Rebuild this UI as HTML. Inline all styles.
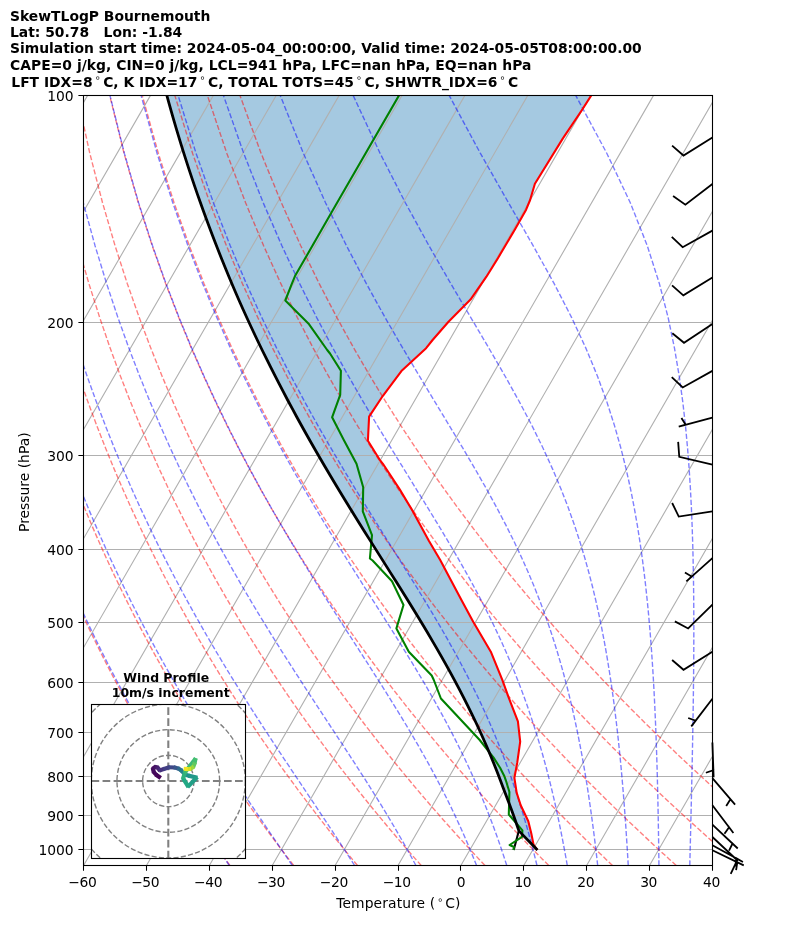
<!DOCTYPE html>
<html><head><meta charset="utf-8"><title>SkewTLogP Bournemouth</title>
<style>html,body{margin:0;padding:0;background:#fff}svg{display:block}text{font-family:"DejaVu Sans","Liberation Sans",sans-serif;fill:#000}</style>
</head><body>
<svg width="794" height="937" viewBox="0 0 794 937">
<rect width="794" height="937" fill="#fff"/>
<defs><clipPath id="ax"><rect x="83.6" y="95.4" width="628.80" height="770.10"/></clipPath></defs>
<g clip-path="url(#ax)">
<path d="M537.41 850.01 L518.87 830.85 L518.37 829.21 L515.49 820.97 L512.57 812.72 L509.53 804.48 L506.39 796.23 L503.24 787.99 L500.17 779.74 L497.00 771.50 L493.72 763.25 L490.33 755.01 L486.83 746.76 L483.23 738.52 L479.51 730.27 L475.68 722.03 L471.73 713.78 L467.68 705.54 L463.52 697.29 L459.25 689.05 L454.88 680.80 L450.40 672.56 L445.83 664.31 L441.17 656.07 L436.43 647.82 L431.61 639.58 L426.71 631.33 L421.75 623.09 L416.73 614.84 L411.66 606.60 L406.55 598.35 L401.41 590.11 L396.24 581.86 L391.05 573.62 L385.86 565.37 L380.66 557.13 L375.46 548.88 L370.27 540.63 L365.10 532.39 L359.95 524.14 L354.83 515.90 L349.74 507.65 L344.69 499.41 L339.67 491.16 L334.70 482.92 L329.78 474.67 L324.90 466.43 L320.08 458.18 L315.31 449.94 L310.59 441.69 L305.93 433.45 L301.33 425.20 L296.78 416.96 L292.30 408.71 L287.87 400.47 L283.51 392.22 L279.21 383.98 L274.97 375.73 L270.78 367.49 L266.67 359.24 L262.61 351.00 L258.61 342.75 L254.67 334.51 L250.80 326.26 L246.99 318.02 L243.23 309.77 L239.54 301.53 L235.95 293.28 L232.43 285.04 L228.96 276.79 L225.56 268.55 L222.21 260.30 L218.92 252.06 L215.69 243.81 L212.51 235.57 L209.39 227.32 L206.33 219.08 L203.32 210.83 L200.37 202.59 L197.47 194.34 L194.63 186.10 L191.84 177.85 L189.10 169.61 L186.42 161.36 L183.79 153.12 L181.21 144.87 L178.69 136.63 L176.21 128.38 L173.79 120.14 L171.42 111.89 L169.10 103.65 L166.83 95.40 L591.30 95.40 L581.80 110.20 L562.90 138.40 L534.90 183.70 L530.10 200.00 L526.10 209.70 L514.60 230.00 L497.90 258.20 L486.40 276.70 L470.50 299.60 L448.50 321.70 L432.60 340.00 L426.10 348.20 L401.40 371.10 L382.90 395.80 L369.10 416.60 L367.90 440.80 L379.40 459.30 L382.90 463.80 L399.70 489.40 L412.90 511.40 L428.70 540.50 L440.20 560.00 L450.80 580.00 L461.70 600.60 L473.20 621.70 L490.80 651.70 L502.30 679.90 L508.70 697.60 L517.90 721.40 L520.20 741.70 L517.20 762.90 L514.40 777.90 L516.70 792.90 L520.70 805.20 L528.30 821.30 L531.30 833.40 L533.50 844.50 L537.40 850.00Z" fill="#1f77b4" fill-opacity="0.4" stroke="none"/>
<path d="M83.60 95.50H712.40M83.60 322.50H712.40M83.60 455.50H712.40M83.60 549.50H712.40M83.60 622.50H712.40M83.60 682.50H712.40M83.60 732.50H712.40M83.60 776.50H712.40M83.60 815.50H712.40M83.60 849.50H712.40" fill="none" stroke="#b0b0b0" stroke-width="1.05"/>
<path d="M-796.72 865.50L-352.53 95.40M-733.84 865.50L-289.65 95.40M-670.96 865.50L-226.77 95.40M-608.08 865.50L-163.89 95.40M-545.20 865.50L-101.01 95.40M-482.32 865.50L-38.13 95.40M-419.44 865.50L24.75 95.40M-356.56 865.50L87.63 95.40M-293.68 865.50L150.51 95.40M-230.80 865.50L213.39 95.40M-167.92 865.50L276.27 95.40M-105.04 865.50L339.15 95.40M-42.16 865.50L402.03 95.40M20.72 865.50L464.91 95.40M83.60 865.50L527.79 95.40M146.48 865.50L590.67 95.40M209.36 865.50L653.55 95.40M272.24 865.50L716.43 95.40M335.12 865.50L779.31 95.40M398.00 865.50L842.19 95.40M460.88 865.50L905.07 95.40M523.76 865.50L967.95 95.40M586.64 865.50L1030.83 95.40M649.52 865.50L1093.71 95.40M712.40 865.50L1156.59 95.40" fill="none" stroke="#b0b0b0" stroke-width="1.11"/>
<path d="M229.94 865.50 L225.57 859.40 L221.15 853.18 L216.70 846.84 L212.20 840.37 L207.66 833.78 L203.07 827.04 L198.45 820.17 L193.77 813.15 L189.05 805.98 L184.28 798.64 L179.46 791.14 L174.58 783.46 L169.66 775.60 L164.68 767.55 L159.64 759.29 L154.55 750.82 L149.40 742.12 L144.19 733.18 L138.92 724.00 L133.58 714.55 L128.18 704.82 L122.71 694.79 L117.16 684.44 L111.55 673.76 L105.86 662.71 L100.10 651.28 L94.25 639.44 L88.33 627.15 L82.32 614.39 L76.22 601.10 L70.03 587.26 L63.76 572.80 L57.38 557.68 L50.92 541.82 L44.35 525.15 L37.69 507.60 L30.92 489.04 L24.06 469.38 L17.09 448.45 L10.03 426.10 L2.88 402.11 L-4.34 376.22 L-11.63 348.11 L-18.95 317.36 L-26.26 283.42 L-33.49 245.55 L-40.53 202.72 L-47.20 153.44 L-53.16 95.40M293.70 865.50 L288.99 859.40 L284.23 853.18 L279.43 846.84 L274.58 840.37 L269.68 833.78 L264.73 827.04 L259.74 820.17 L254.69 813.15 L249.58 805.98 L244.43 798.64 L239.21 791.14 L233.94 783.46 L228.61 775.60 L223.22 767.55 L217.76 759.29 L212.25 750.82 L206.66 742.12 L201.00 733.18 L195.28 724.00 L189.48 714.55 L183.60 704.82 L177.65 694.79 L171.61 684.44 L165.49 673.76 L159.29 662.71 L152.99 651.28 L146.60 639.44 L140.12 627.15 L133.53 614.39 L126.85 601.10 L120.05 587.26 L113.15 572.80 L106.13 557.68 L98.99 541.82 L91.73 525.15 L84.35 507.60 L76.83 489.04 L69.19 469.38 L61.41 448.45 L53.49 426.10 L45.44 402.11 L37.27 376.22 L28.97 348.11 L20.58 317.36 L12.11 283.42 L3.63 245.55 L-4.77 202.72 L-12.94 153.44 L-20.59 95.40M357.47 865.50 L352.41 859.40 L347.31 853.18 L342.16 846.84 L336.96 840.37 L331.70 833.78 L326.39 827.04 L321.03 820.17 L315.60 813.15 L310.12 805.98 L304.58 798.64 L298.97 791.14 L293.30 783.46 L287.56 775.60 L281.76 767.55 L275.88 759.29 L269.94 750.82 L263.91 742.12 L257.81 733.18 L251.63 724.00 L245.37 714.55 L239.02 704.82 L232.59 694.79 L226.06 684.44 L219.43 673.76 L212.71 662.71 L205.88 651.28 L198.95 639.44 L191.91 627.15 L184.75 614.39 L177.48 601.10 L170.07 587.26 L162.54 572.80 L154.88 557.68 L147.07 541.82 L139.12 525.15 L131.01 507.60 L122.75 489.04 L114.32 469.38 L105.72 448.45 L96.95 426.10 L88.00 402.11 L78.88 376.22 L69.57 348.11 L60.10 317.36 L50.49 283.42 L40.76 245.55 L31.00 202.72 L21.32 153.44 L11.98 95.40M421.23 865.50 L415.84 859.40 L410.39 853.18 L404.89 846.84 L399.34 840.37 L393.73 833.78 L388.05 827.04 L382.32 820.17 L376.52 813.15 L370.66 805.98 L364.73 798.64 L358.73 791.14 L352.66 783.46 L346.52 775.60 L340.30 767.55 L334.00 759.29 L327.63 750.82 L321.17 742.12 L314.63 733.18 L307.99 724.00 L301.27 714.55 L294.45 704.82 L287.53 694.79 L280.50 684.44 L273.37 673.76 L266.13 662.71 L258.78 651.28 L251.30 639.44 L243.70 627.15 L235.97 614.39 L228.10 601.10 L220.09 587.26 L211.94 572.80 L203.62 557.68 L195.15 541.82 L186.50 525.15 L177.67 507.60 L168.66 489.04 L159.45 469.38 L150.04 448.45 L140.41 426.10 L130.56 402.11 L120.49 376.22 L110.17 348.11 L99.63 317.36 L88.86 283.42 L77.89 245.55 L66.76 202.72 L55.58 153.44 L44.55 95.40M484.99 865.50 L479.26 859.40 L473.47 853.18 L467.63 846.84 L461.72 840.37 L455.75 833.78 L449.71 827.04 L443.61 820.17 L437.44 813.15 L431.19 805.98 L424.88 798.64 L418.49 791.14 L412.02 783.46 L405.47 775.60 L398.84 767.55 L392.12 759.29 L385.32 750.82 L378.43 742.12 L371.44 733.18 L364.35 724.00 L357.16 714.55 L349.87 704.82 L342.47 694.79 L334.95 684.44 L327.31 673.76 L319.56 662.71 L311.67 651.28 L303.65 639.44 L295.49 627.15 L287.19 614.39 L278.73 601.10 L270.12 587.26 L261.33 572.80 L252.37 557.68 L243.22 541.82 L233.88 525.15 L224.34 507.60 L214.57 489.04 L204.58 469.38 L194.36 448.45 L183.87 426.10 L173.12 402.11 L162.10 376.22 L150.78 348.11 L139.16 317.36 L127.23 283.42 L115.01 245.55 L102.53 202.72 L89.84 153.44 L77.12 95.40M548.75 865.50 L542.69 859.40 L536.56 853.18 L530.36 846.84 L524.10 840.37 L517.77 833.78 L511.37 827.04 L504.90 820.17 L498.35 813.15 L491.73 805.98 L485.03 798.64 L478.24 791.14 L471.38 783.46 L464.42 775.60 L457.38 767.55 L450.24 759.29 L443.01 750.82 L435.68 742.12 L428.25 733.18 L420.71 724.00 L413.06 714.55 L405.29 704.82 L397.41 694.79 L389.40 684.44 L381.26 673.76 L372.98 662.71 L364.57 651.28 L356.00 639.44 L347.29 627.15 L338.41 614.39 L329.36 601.10 L320.14 587.26 L310.72 572.80 L301.12 557.68 L291.30 541.82 L281.26 525.15 L271.00 507.60 L260.49 489.04 L249.72 469.38 L238.67 448.45 L227.33 426.10 L215.68 402.11 L203.70 376.22 L191.38 348.11 L178.68 317.36 L165.61 283.42 L152.14 245.55 L138.29 202.72 L124.10 153.44 L109.68 95.40M612.52 865.50 L606.11 859.40 L599.64 853.18 L593.09 846.84 L586.48 840.37 L579.79 833.78 L573.03 827.04 L566.19 820.17 L559.27 813.15 L552.27 805.98 L545.18 798.64 L538.00 791.14 L530.74 783.46 L523.38 775.60 L515.92 767.55 L508.37 759.29 L500.71 750.82 L492.94 742.12 L485.06 733.18 L477.07 724.00 L468.95 714.55 L460.71 704.82 L452.35 694.79 L443.84 684.44 L435.20 673.76 L426.41 662.71 L417.46 651.28 L408.35 639.44 L399.08 627.15 L389.63 614.39 L379.99 601.10 L370.16 587.26 L360.12 572.80 L349.86 557.68 L339.38 541.82 L328.65 525.15 L317.66 507.60 L306.40 489.04 L294.85 469.38 L282.99 448.45 L270.79 426.10 L258.24 402.11 L245.31 376.22 L231.98 348.11 L218.21 317.36 L203.98 283.42 L189.27 245.55 L174.06 202.72 L158.36 153.44 L142.25 95.40M676.28 865.50 L669.53 859.40 L662.72 853.18 L655.83 846.84 L648.86 840.37 L641.81 833.78 L634.69 827.04 L627.48 820.17 L620.18 813.15 L612.80 805.98 L605.33 798.64 L597.76 791.14 L590.10 783.46 L582.33 775.60 L574.46 767.55 L566.49 759.29 L558.40 750.82 L550.19 742.12 L541.87 733.18 L533.42 724.00 L524.85 714.55 L516.14 704.82 L507.28 694.79 L498.29 684.44 L489.14 673.76 L479.83 662.71 L470.35 651.28 L460.70 639.44 L450.87 627.15 L440.85 614.39 L430.62 601.10 L420.18 587.26 L409.51 572.80 L398.61 557.68 L387.45 541.82 L376.03 525.15 L364.32 507.60 L352.31 489.04 L339.98 469.38 L327.30 448.45 L314.25 426.10 L300.80 402.11 L286.92 376.22 L272.58 348.11 L257.74 317.36 L242.35 283.42 L226.39 245.55 L209.82 202.72 L192.62 153.44 L174.82 95.40M740.04 865.50 L732.96 859.40 L725.80 853.18 L718.56 846.84 L711.24 840.37 L703.84 833.78 L696.35 827.04 L688.77 820.17 L681.10 813.15 L673.34 805.98 L665.48 798.64 L657.52 791.14 L649.45 783.46 L641.28 775.60 L633.00 767.55 L624.61 759.29 L616.09 750.82 L607.45 742.12 L598.68 733.18 L589.78 724.00 L580.74 714.55 L571.56 704.82 L562.22 694.79 L552.73 684.44 L543.08 673.76 L533.25 662.71 L523.25 651.28 L513.05 639.44 L502.66 627.15 L492.06 614.39 L481.25 601.10 L470.20 587.26 L458.90 572.80 L447.35 557.68 L435.53 541.82 L423.41 525.15 L410.99 507.60 L398.23 489.04 L385.11 469.38 L371.62 448.45 L357.71 426.10 L343.36 402.11 L328.53 376.22 L313.18 348.11 L297.26 317.36 L280.73 283.42 L263.52 245.55 L245.59 202.72 L226.88 153.44 L207.39 95.40M803.80 865.50 L796.38 859.40 L788.88 853.18 L781.29 846.84 L773.62 840.37 L765.86 833.78 L758.01 827.04 L750.06 820.17 L742.02 813.15 L733.87 805.98 L725.63 798.64 L717.28 791.14 L708.81 783.46 L700.24 775.60 L691.54 767.55 L682.73 759.29 L673.78 750.82 L664.71 742.12 L655.49 733.18 L646.14 724.00 L636.64 714.55 L626.98 704.82 L617.16 694.79 L607.18 684.44 L597.02 673.76 L586.68 662.71 L576.14 651.28 L565.40 639.44 L554.45 627.15 L543.28 614.39 L531.87 601.10 L520.22 587.26 L508.30 572.80 L496.10 557.68 L483.61 541.82 L470.80 525.15 L457.65 507.60 L444.14 489.04 L430.25 469.38 L415.93 448.45 L401.17 426.10 L385.92 402.11 L370.14 376.22 L353.78 348.11 L336.79 317.36 L319.10 283.42 L300.65 245.55 L281.35 202.72 L261.14 153.44 L239.96 95.40" fill="none" stroke="#ff0000" stroke-opacity="0.5" stroke-width="1.39" stroke-dasharray="5.14 2.22"/>
<path d="M229.37 865.50 L225.23 859.40 L221.03 853.18 L216.78 846.84 L212.46 840.37 L208.08 833.78 L203.65 827.04 L199.15 820.17 L194.60 813.15 L189.99 805.98 L185.31 798.64 L180.57 791.14 L175.77 783.46 L170.91 775.60 L165.99 767.55 L161.00 759.29 L155.95 750.82 L150.83 742.12 L145.64 733.18 L140.39 724.00 L135.07 714.55 L129.67 704.82 L124.21 694.79 L118.67 684.44 L113.06 673.76 L107.36 662.71 L101.59 651.28 L95.74 639.44 L89.80 627.15 L83.78 614.39 L77.67 601.10 L71.47 587.26 L65.18 572.80 L58.79 557.68 L52.30 541.82 L45.72 525.15 L39.03 507.60 L32.24 489.04 L25.36 469.38 L18.37 448.45 L11.28 426.10 L4.11 402.11 L-3.14 376.22 L-10.46 348.11 L-17.81 317.36 L-25.15 283.42 L-32.42 245.55 L-39.50 202.72 L-46.21 153.44 L-52.22 95.40M292.34 865.50 L288.18 859.40 L283.95 853.18 L279.63 846.84 L275.23 840.37 L270.75 833.78 L266.18 827.04 L261.53 820.17 L256.80 813.15 L251.99 805.98 L247.09 798.64 L242.11 791.14 L237.04 783.46 L231.89 775.60 L226.66 767.55 L221.34 759.29 L215.94 750.82 L210.45 742.12 L204.88 733.18 L199.22 724.00 L193.47 714.55 L187.63 704.82 L181.71 694.79 L175.69 684.44 L169.57 673.76 L163.36 662.71 L157.06 651.28 L150.65 639.44 L144.14 627.15 L137.53 614.39 L130.81 601.10 L123.98 587.26 L117.03 572.80 L109.97 557.68 L102.78 541.82 L95.47 525.15 L88.03 507.60 L80.46 489.04 L72.75 469.38 L64.91 448.45 L56.92 426.10 L48.80 402.11 L40.55 376.22 L32.18 348.11 L23.70 317.36 L15.14 283.42 L6.57 245.55 L-1.94 202.72 L-10.23 153.44 L-18.02 95.40M354.58 865.50 L350.69 859.40 L346.70 853.18 L342.60 846.84 L338.38 840.37 L334.06 833.78 L329.62 827.04 L325.06 820.17 L320.39 813.15 L315.60 805.98 L310.70 798.64 L305.68 791.14 L300.53 783.46 L295.27 775.60 L289.89 767.55 L284.39 759.29 L278.77 750.82 L273.04 742.12 L267.18 733.18 L261.20 724.00 L255.11 714.55 L248.89 704.82 L242.55 694.79 L236.09 684.44 L229.51 673.76 L222.81 662.71 L215.98 651.28 L209.02 639.44 L201.94 627.15 L194.72 614.39 L187.37 601.10 L179.89 587.26 L172.26 572.80 L164.48 557.68 L156.56 541.82 L148.48 525.15 L140.24 507.60 L131.83 489.04 L123.25 469.38 L114.50 448.45 L105.56 426.10 L96.43 402.11 L87.12 376.22 L77.61 348.11 L67.93 317.36 L58.09 283.42 L48.11 245.55 L38.08 202.72 L28.11 153.44 L18.43 95.40M415.93 865.50 L412.65 859.40 L409.24 853.18 L405.72 846.84 L402.06 840.37 L398.27 833.78 L394.34 827.04 L390.27 820.17 L386.06 813.15 L381.69 805.98 L377.17 798.64 L372.49 791.14 L367.65 783.46 L362.65 775.60 L357.47 767.55 L352.13 759.29 L346.62 750.82 L340.93 742.12 L335.06 733.18 L329.02 724.00 L322.81 714.55 L316.41 704.82 L309.84 694.79 L303.10 684.44 L296.18 673.76 L289.08 662.71 L281.80 651.28 L274.35 639.44 L266.73 627.15 L258.92 614.39 L250.94 601.10 L242.78 587.26 L234.43 572.80 L225.90 557.68 L217.17 541.82 L208.25 525.15 L199.12 507.60 L189.79 489.04 L180.23 469.38 L170.45 448.45 L160.44 426.10 L150.18 402.11 L139.67 376.22 L128.89 348.11 L117.85 317.36 L106.55 283.42 L95.00 245.55 L83.25 202.72 L71.38 153.44 L59.56 95.40M476.57 865.50 L474.14 859.40 L471.61 853.18 L468.97 846.84 L466.22 840.37 L463.34 833.78 L460.33 827.04 L457.18 820.17 L453.89 813.15 L450.44 805.98 L446.83 798.64 L443.05 791.14 L439.09 783.46 L434.94 775.60 L430.60 767.55 L426.04 759.29 L421.27 750.82 L416.27 742.12 L411.03 733.18 L405.55 724.00 L399.82 714.55 L393.84 704.82 L387.58 694.79 L381.06 684.44 L374.26 673.76 L367.19 662.71 L359.84 651.28 L352.21 639.44 L344.30 627.15 L336.11 614.39 L327.65 601.10 L318.90 587.26 L309.89 572.80 L300.60 557.68 L291.03 541.82 L281.19 525.15 L271.06 507.60 L260.66 489.04 L249.96 469.38 L238.96 448.45 L227.65 426.10 L216.02 402.11 L204.04 376.22 L191.72 348.11 L179.02 317.36 L165.93 283.42 L152.46 245.55 L138.60 202.72 L124.39 153.44 L109.96 95.40M506.77 865.50 L504.81 859.40 L502.76 853.18 L500.62 846.84 L498.39 840.37 L496.04 833.78 L493.59 827.04 L491.01 820.17 L488.31 813.15 L485.47 805.98 L482.48 798.64 L479.34 791.14 L476.03 783.46 L472.54 775.60 L468.86 767.55 L464.98 759.29 L460.89 750.82 L456.56 742.12 L452.00 733.18 L447.17 724.00 L442.08 714.55 L436.69 704.82 L431.01 694.79 L425.02 684.44 L418.70 673.76 L412.04 662.71 L405.04 651.28 L397.68 639.44 L389.96 627.15 L381.88 614.39 L373.43 601.10 L364.62 587.26 L355.44 572.80 L345.90 557.68 L336.00 541.82 L325.74 525.15 L315.13 507.60 L304.15 489.04 L292.82 469.38 L281.13 448.45 L269.06 426.10 L256.60 402.11 L243.74 376.22 L230.47 348.11 L216.75 317.36 L202.57 283.42 L187.90 245.55 L172.74 202.72 L157.10 153.44 L141.06 95.40M536.98 865.50 L535.48 859.40 L533.92 853.18 L532.28 846.84 L530.56 840.37 L528.76 833.78 L526.87 827.04 L524.88 820.17 L522.79 813.15 L520.59 805.98 L518.27 798.64 L515.82 791.14 L513.24 783.46 L510.50 775.60 L507.60 767.55 L504.52 759.29 L501.26 750.82 L497.79 742.12 L494.10 733.18 L490.17 724.00 L485.98 714.55 L481.51 704.82 L476.74 694.79 L471.65 684.44 L466.21 673.76 L460.41 662.71 L454.21 651.28 L447.60 639.44 L440.55 627.15 L433.05 614.39 L425.07 601.10 L416.61 587.26 L407.66 572.80 L398.21 557.68 L388.25 541.82 L377.80 525.15 L366.86 507.60 L355.42 489.04 L343.51 469.38 L331.11 448.45 L318.23 426.10 L304.86 402.11 L291.00 376.22 L276.62 348.11 L261.71 317.36 L246.23 283.42 L230.15 245.55 L213.44 202.72 L196.09 153.44 L178.12 95.40M567.27 865.50 L566.21 859.40 L565.09 853.18 L563.92 846.84 L562.69 840.37 L561.40 833.78 L560.05 827.04 L558.63 820.17 L557.13 813.15 L555.56 805.98 L553.89 798.64 L552.13 791.14 L550.26 783.46 L548.28 775.60 L546.18 767.55 L543.94 759.29 L541.56 750.82 L539.01 742.12 L536.30 733.18 L533.39 724.00 L530.26 714.55 L526.91 704.82 L523.30 694.79 L519.41 684.44 L515.21 673.76 L510.67 662.71 L505.76 651.28 L500.44 639.44 L494.67 627.15 L488.41 614.39 L481.62 601.10 L474.26 587.26 L466.29 572.80 L457.67 557.68 L448.38 541.82 L438.39 525.15 L427.68 507.60 L416.25 489.04 L404.10 469.38 L391.24 448.45 L377.68 426.10 L363.44 402.11 L348.51 376.22 L332.89 348.11 L316.59 317.36 L299.56 283.42 L281.78 245.55 L263.19 202.72 L243.75 153.44 L223.43 95.40M597.69 865.50 L597.00 859.40 L596.29 853.18 L595.54 846.84 L594.75 840.37 L593.93 833.78 L593.06 827.04 L592.14 820.17 L591.18 813.15 L590.17 805.98 L589.09 798.64 L587.95 791.14 L586.75 783.46 L585.46 775.60 L584.10 767.55 L582.65 759.29 L581.09 750.82 L579.43 742.12 L577.65 733.18 L575.73 724.00 L573.67 714.55 L571.45 704.82 L569.04 694.79 L566.43 684.44 L563.59 673.76 L560.50 662.71 L557.12 651.28 L553.42 639.44 L549.35 627.15 L544.87 614.39 L539.93 601.10 L534.46 587.26 L528.40 572.80 L521.68 557.68 L514.21 541.82 L505.92 525.15 L496.72 507.60 L486.54 489.04 L475.32 469.38 L463.02 448.45 L449.60 426.10 L435.07 402.11 L419.44 376.22 L402.74 348.11 L384.99 317.36 L366.22 283.42 L346.40 245.55 L325.51 202.72 L303.47 153.44 L280.21 95.40M628.24 865.50 L627.89 859.40 L627.52 853.18 L627.13 846.84 L626.72 840.37 L626.29 833.78 L625.84 827.04 L625.36 820.17 L624.86 813.15 L624.32 805.98 L623.75 798.64 L623.15 791.14 L622.51 783.46 L621.82 775.60 L621.09 767.55 L620.30 759.29 L619.46 750.82 L618.56 742.12 L617.58 733.18 L616.53 724.00 L615.39 714.55 L614.16 704.82 L612.81 694.79 L611.35 684.44 L609.74 673.76 L607.98 662.71 L606.05 651.28 L603.91 639.44 L601.53 627.15 L598.89 614.39 L595.95 601.10 L592.64 587.26 L588.92 572.80 L584.71 557.68 L579.92 541.82 L574.46 525.15 L568.21 507.60 L561.02 489.04 L552.74 469.38 L543.19 448.45 L532.19 426.10 L519.55 402.11 L505.14 376.22 L488.86 348.11 L470.69 317.36 L450.66 283.42 L428.87 245.55 L405.35 202.72 L380.14 153.44 L353.16 95.40M658.94 865.50 L658.87 859.40 L658.79 853.18 L658.70 846.84 L658.61 840.37 L658.50 833.78 L658.39 827.04 L658.27 820.17 L658.14 813.15 L658.00 805.98 L657.85 798.64 L657.68 791.14 L657.49 783.46 L657.29 775.60 L657.07 767.55 L656.82 759.29 L656.55 750.82 L656.25 742.12 L655.93 733.18 L655.56 724.00 L655.16 714.55 L654.72 704.82 L654.22 694.79 L653.67 684.44 L653.05 673.76 L652.35 662.71 L651.57 651.28 L650.69 639.44 L649.70 627.15 L648.57 614.39 L647.29 601.10 L645.82 587.26 L644.14 572.80 L642.19 557.68 L639.94 541.82 L637.30 525.15 L634.21 507.60 L630.56 489.04 L626.20 469.38 L620.97 448.45 L614.65 426.10 L606.94 402.11 L597.49 376.22 L585.85 348.11 L571.53 317.36 L554.05 283.42 L533.07 245.55 L508.48 202.72 L480.43 153.44 L449.16 95.40M689.79 865.50 L689.93 859.40 L690.09 853.18 L690.24 846.84 L690.40 840.37 L690.56 833.78 L690.72 827.04 L690.89 820.17 L691.06 813.15 L691.22 805.98 L691.40 798.64 L691.57 791.14 L691.74 783.46 L691.91 775.60 L692.09 767.55 L692.26 759.29 L692.43 750.82 L692.60 742.12 L692.76 733.18 L692.93 724.00 L693.08 714.55 L693.23 704.82 L693.37 694.79 L693.49 684.44 L693.61 673.76 L693.70 662.71 L693.77 651.28 L693.82 639.44 L693.83 627.15 L693.80 614.39 L693.72 601.10 L693.59 587.26 L693.37 572.80 L693.07 557.68 L692.66 541.82 L692.11 525.15 L691.38 507.60 L690.43 489.04 L689.19 469.38 L687.59 448.45 L685.51 426.10 L682.80 402.11 L679.23 376.22 L674.48 348.11 L668.08 317.36 L659.33 283.42 L647.21 245.55 L630.29 202.72 L606.89 153.44 L575.71 95.40M720.76 865.50 L721.08 859.40 L721.42 853.18 L721.76 846.84 L722.12 840.37 L722.48 833.78 L722.86 827.04 L723.24 820.17 L723.64 813.15 L724.04 805.98 L724.46 798.64 L724.90 791.14 L725.34 783.46 L725.80 775.60 L726.27 767.55 L726.75 759.29 L727.25 750.82 L727.77 742.12 L728.30 733.18 L728.85 724.00 L729.41 714.55 L729.99 704.82 L730.59 694.79 L731.20 684.44 L731.84 673.76 L732.49 662.71 L733.16 651.28 L733.85 639.44 L734.56 627.15 L735.29 614.39 L736.03 601.10 L736.80 587.26 L737.58 572.80 L738.36 557.68 L739.16 541.82 L739.96 525.15 L740.76 507.60 L741.54 489.04 L742.29 469.38 L742.99 448.45 L743.61 426.10 L744.10 402.11 L744.39 376.22 L744.38 348.11 L743.91 317.36 L742.72 283.42 L740.38 245.55 L736.12 202.72 L728.50 153.44 L714.74 95.40M751.84 865.50 L752.30 859.40 L752.78 853.18 L753.26 846.84 L753.77 840.37 L754.28 833.78 L754.82 827.04 L755.37 820.17 L755.93 813.15 L756.52 805.98 L757.12 798.64 L757.75 791.14 L758.39 783.46 L759.06 775.60 L759.75 767.55 L760.46 759.29 L761.20 750.82 L761.96 742.12 L762.76 733.18 L763.58 724.00 L764.43 714.55 L765.32 704.82 L766.24 694.79 L767.20 684.44 L768.20 673.76 L769.24 662.71 L770.32 651.28 L771.45 639.44 L772.63 627.15 L773.87 614.39 L775.16 601.10 L776.52 587.26 L777.94 572.80 L779.44 557.68 L781.01 541.82 L782.67 525.15 L784.41 507.60 L786.26 489.04 L788.21 469.38 L790.27 448.45 L792.46 426.10 L794.77 402.11 L797.22 376.22 L799.81 348.11 L802.53 317.36 L805.36 283.42 L808.26 245.55 L811.09 202.72 L813.60 153.44 L815.14 95.40M783.02 865.50 L783.58 859.40 L784.16 853.18 L784.75 846.84 L785.36 840.37 L785.99 833.78 L786.64 827.04 L787.30 820.17 L787.99 813.15 L788.71 805.98 L789.44 798.64 L790.20 791.14 L790.99 783.46 L791.81 775.60 L792.65 767.55 L793.52 759.29 L794.43 750.82 L795.37 742.12 L796.35 733.18 L797.36 724.00 L798.42 714.55 L799.51 704.82 L800.66 694.79 L801.85 684.44 L803.10 673.76 L804.40 662.71 L805.76 651.28 L807.18 639.44 L808.68 627.15 L810.25 614.39 L811.90 601.10 L813.65 587.26 L815.49 572.80 L817.43 557.68 L819.49 541.82 L821.69 525.15 L824.02 507.60 L826.51 489.04 L829.18 469.38 L832.06 448.45 L835.15 426.10 L838.51 402.11 L842.17 376.22 L846.17 348.11 L850.57 317.36 L855.46 283.42 L860.92 245.55 L867.07 202.72 L874.08 153.44 L882.13 95.40" fill="none" stroke="#0000ff" stroke-opacity="0.5" stroke-width="1.39" stroke-dasharray="5.14 2.22"/>
<path d="M518.87 830.85 L513.70 850.00" fill="none" stroke="#000" stroke-width="2.08" stroke-linejoin="round" />
<path d="M591.30 95.40 L581.80 110.20 L562.90 138.40 L534.90 183.70 L530.10 200.00 L526.10 209.70 L514.60 230.00 L497.90 258.20 L486.40 276.70 L470.50 299.60 L448.50 321.70 L432.60 340.00 L426.10 348.20 L401.40 371.10 L382.90 395.80 L369.10 416.60 L367.90 440.80 L379.40 459.30 L382.90 463.80 L399.70 489.40 L412.90 511.40 L428.70 540.50 L440.20 560.00 L450.80 580.00 L461.70 600.60 L473.20 621.70 L490.80 651.70 L502.30 679.90 L508.70 697.60 L517.90 721.40 L520.20 741.70 L517.20 762.90 L514.40 777.90 L516.70 792.90 L520.70 805.20 L528.30 821.30 L531.30 833.40 L533.50 844.50 L537.40 850.00" fill="none" stroke="#ff0000" stroke-width="2.08" stroke-linejoin="round" />
<path d="M399.00 95.40 L332.90 210.00 L295.00 276.10 L291.40 284.90 L285.30 300.50 L309.10 324.30 L327.20 350.00 L330.00 353.50 L340.90 370.80 L340.20 394.90 L332.10 417.30 L343.80 440.00 L356.50 463.80 L363.20 487.30 L362.80 511.40 L372.00 535.20 L369.90 558.50 L372.60 560.50 L392.00 581.20 L403.50 605.00 L396.40 628.40 L408.80 651.70 L431.70 675.50 L433.80 680.00 L440.90 698.50 L479.70 740.00 L487.40 749.80 L493.40 757.40 L500.20 768.00 L504.40 776.30 L506.00 780.80 L509.40 792.00 L508.80 814.50 L522.40 830.40 L522.00 836.90 L509.60 845.00 L514.00 847.00 L513.40 850.00" fill="none" stroke="#008000" stroke-width="2.08" stroke-linejoin="round" />
<path d="M537.41 850.01 L518.87 830.85 L518.37 829.21 L515.49 820.97 L512.57 812.72 L509.53 804.48 L506.39 796.23 L503.24 787.99 L500.17 779.74 L497.00 771.50 L493.72 763.25 L490.33 755.01 L486.83 746.76 L483.23 738.52 L479.51 730.27 L475.68 722.03 L471.73 713.78 L467.68 705.54 L463.52 697.29 L459.25 689.05 L454.88 680.80 L450.40 672.56 L445.83 664.31 L441.17 656.07 L436.43 647.82 L431.61 639.58 L426.71 631.33 L421.75 623.09 L416.73 614.84 L411.66 606.60 L406.55 598.35 L401.41 590.11 L396.24 581.86 L391.05 573.62 L385.86 565.37 L380.66 557.13 L375.46 548.88 L370.27 540.63 L365.10 532.39 L359.95 524.14 L354.83 515.90 L349.74 507.65 L344.69 499.41 L339.67 491.16 L334.70 482.92 L329.78 474.67 L324.90 466.43 L320.08 458.18 L315.31 449.94 L310.59 441.69 L305.93 433.45 L301.33 425.20 L296.78 416.96 L292.30 408.71 L287.87 400.47 L283.51 392.22 L279.21 383.98 L274.97 375.73 L270.78 367.49 L266.67 359.24 L262.61 351.00 L258.61 342.75 L254.67 334.51 L250.80 326.26 L246.99 318.02 L243.23 309.77 L239.54 301.53 L235.95 293.28 L232.43 285.04 L228.96 276.79 L225.56 268.55 L222.21 260.30 L218.92 252.06 L215.69 243.81 L212.51 235.57 L209.39 227.32 L206.33 219.08 L203.32 210.83 L200.37 202.59 L197.47 194.34 L194.63 186.10 L191.84 177.85 L189.10 169.61 L186.42 161.36 L183.79 153.12 L181.21 144.87 L178.69 136.63 L176.21 128.38 L173.79 120.14 L171.42 111.89 L169.10 103.65 L166.83 95.40" fill="none" stroke="#000" stroke-width="2.78" stroke-linejoin="round" />
</g>
<path d="M83.60 95.50h-5.2M83.60 322.50h-5.2M83.60 455.50h-5.2M83.60 549.50h-5.2M83.60 622.50h-5.2M83.60 682.50h-5.2M83.60 732.50h-5.2M83.60 776.50h-5.2M83.60 815.50h-5.2M83.60 849.50h-5.2M83.50 865.50v5.2M146.50 865.50v5.2M209.50 865.50v5.2M272.50 865.50v5.2M335.50 865.50v5.2M398.50 865.50v5.2M460.50 865.50v5.2M523.50 865.50v5.2M586.50 865.50v5.2M649.50 865.50v5.2M712.50 865.50v5.2" stroke="#000" stroke-width="1.05" fill="none"/>
<rect x="83.5" y="95.5" width="629" height="770" fill="none" stroke="#000" stroke-width="1.1"/>
<path d="M712.40 137.60 L683.48 155.54 L672.09 145.69M712.40 184.00 L685.38 204.68 L673.08 196.00M712.40 230.60 L682.68 247.17 L671.76 236.81M712.40 277.60 L683.35 295.32 L672.03 285.39M712.40 324.00 L684.01 342.76 L672.34 333.25M712.40 370.90 L682.68 387.47 L671.76 377.11M712.40 417.60 L678.73 426.51 L685.67 424.67 L681.45 417.96M712.40 464.60 L679.26 456.87 L678.16 441.85M712.40 511.40 L678.76 516.54 L672.15 503.01M712.40 558.20 L686.35 581.32 L691.72 576.55 L684.93 572.46M712.40 604.60 L688.15 628.47 L674.86 621.37M712.40 651.80 L683.52 669.80 L672.11 659.98M712.40 698.70 L691.29 726.40 L695.64 720.69 L688.19 717.99M712.40 742.50 L713.63 777.31 L713.38 770.13 L705.89 772.76M712.40 778.20 L735.10 804.61 L730.42 799.17 L726.22 805.90M712.40 805.20 L733.41 832.97 L729.08 827.25 L724.47 833.70M712.40 824.60 L737.75 848.49 L732.52 843.56 L729.05 850.69M712.40 837.00 L737.25 860.25 L730.71 873.81M712.40 845.20 L742.95 861.92 L736.65 858.47 L735.09 866.25M712.40 850.20 L743.74 865.38 L737.28 862.25 L736.11 870.10" fill="none" stroke="#000" stroke-width="1.8" stroke-linejoin="miter" stroke-linecap="butt"/>
<rect x="91.5" y="704.5" width="154.00" height="154.00" fill="#fff"/>
<clipPath id="hc"><rect x="91.5" y="704.5" width="154.00" height="154.00"/></clipPath>
<g clip-path="url(#hc)"><g fill="none" stroke="#808080" stroke-width="1.39" stroke-dasharray="5.14 2.22"><circle cx="168.3" cy="781.0" r="25.67"/><circle cx="168.3" cy="781.0" r="51.33"/><circle cx="168.3" cy="781.0" r="77.00"/><circle cx="168.3" cy="781.0" r="102.67"/></g><path d="M91.5 781.0H245.5M168.3 858.5V704.5" fill="none" stroke="#808080" stroke-width="2.08" stroke-dasharray="7.71 3.33"/>
<g fill="none" stroke-width="4.17" stroke-linecap="butt"><path d="M160.75 778.06L155.65 774.44" stroke="#440356"/><path d="M156.82 775.50L153.18 771.30" stroke="#450659"/><path d="M153.88 772.68L152.72 767.72" stroke="#450a5c"/><path d="M152.23 768.94L155.87 766.56" stroke="#460f61"/><path d="M154.41 766.86L158.29 767.54" stroke="#471869"/><path d="M157.03 766.75L160.17 771.05" stroke="#482475"/><path d="M158.95 770.67L164.65 768.63" stroke="#45327d"/><path d="M163.13 769.13L169.97 767.07" stroke="#423f84"/><path d="M168.40 767.27L175.30 767.53" stroke="#3f4888"/><path d="M173.73 767.30L179.07 768.70" stroke="#39568b"/><path d="M177.62 768.08L181.88 770.72" stroke="#306c8e"/><path d="M180.65 769.72L185.95 775.28" stroke="#27818d"/><path d="M184.63 774.47L189.77 776.03" stroke="#228e8c"/><path d="M188.22 775.62L197.48 777.78" stroke="#21978a"/><path d="M197.26 777.02L187.54 787.08" stroke="#229f87"/><path d="M188.52 787.18L182.68 777.62" stroke="#22a884"/><path d="M182.85 779.06L185.25 771.64" stroke="#30b17c"/><path d="M184.51 773.04L195.89 758.16" stroke="#3cb975"/><path d="M195.54 758.01L194.46 763.99" stroke="#44bf70"/><path d="M194.88 762.45L192.92 767.75" stroke="#62c95f"/><path d="M193.87 766.56L189.53 769.44" stroke="#9cd83c"/><path d="M191.00 769.00L186.20 769.00" stroke="#d0e126"/><path d="M187.80 769.06L183.70 768.74" stroke="#f0e525"/></g></g>
<rect x="91.5" y="704.5" width="154.00" height="154.00" fill="none" stroke="#000" stroke-width="1.11"/>
<text x="166.2" y="681.6" text-anchor="middle" font-size="12.45" font-weight="bold">Wind Profile</text>
<text x="170.7" y="696.8" text-anchor="middle" font-size="12.45" font-weight="bold">10m/s increment</text>
<text x="10" y="20.8" text-anchor="start" font-size="13.89" font-weight="bold" xml:space="preserve">SkewTLogP Bournemouth</text>
<text x="10" y="36.9" text-anchor="start" font-size="13.89" font-weight="bold" xml:space="preserve">Lat: 50.78   Lon: -1.84</text>
<text x="10" y="52.5" text-anchor="start" font-size="13.89" font-weight="bold" xml:space="preserve" textLength="631.7" lengthAdjust="spacing">Simulation start time: 2024-05-04_00:00:00, Valid time: 2024-05-05T08:00:00.00</text>
<text x="10" y="69.9" text-anchor="start" font-size="13.89" font-weight="bold" xml:space="preserve" textLength="521.4" lengthAdjust="spacing">CAPE=0 j/kg, CIN=0 j/kg, LCL=941 hPa, LFC=nan hPa, EQ=nan hPa</text>
<text x="11.3" y="86.6" text-anchor="start" font-size="13.89" font-weight="bold" xml:space="preserve">LFT IDX=8<tspan dy="-5.2" font-size="9.72" font-weight="normal" dx="2.1">∘</tspan><tspan dy="5.2" dx="2.4">C</tspan>, K IDX=17<tspan dy="-5.2" font-size="9.72" font-weight="normal" dx="2.1">∘</tspan><tspan dy="5.2" dx="2.4">C</tspan>, TOTAL TOTS=45<tspan dy="-5.2" font-size="9.72" font-weight="normal" dx="2.1">∘</tspan><tspan dy="5.2" dx="2.4">C</tspan>, SHWTR_IDX=6<tspan dy="-5.2" font-size="9.72" font-weight="normal" dx="2.1">∘</tspan><tspan dy="5.2" dx="2.4">C</tspan></text>
<text x="73.69999999999999" y="101.00" text-anchor="end" font-size="13.89">100</text>
<text x="73.69999999999999" y="328.00" text-anchor="end" font-size="13.89">200</text>
<text x="73.69999999999999" y="461.00" text-anchor="end" font-size="13.89">300</text>
<text x="73.69999999999999" y="555.00" text-anchor="end" font-size="13.89">400</text>
<text x="73.69999999999999" y="628.00" text-anchor="end" font-size="13.89">500</text>
<text x="73.69999999999999" y="688.00" text-anchor="end" font-size="13.89">600</text>
<text x="73.69999999999999" y="738.00" text-anchor="end" font-size="13.89">700</text>
<text x="73.69999999999999" y="782.00" text-anchor="end" font-size="13.89">800</text>
<text x="73.69999999999999" y="821.00" text-anchor="end" font-size="13.89">900</text>
<text x="73.69999999999999" y="855.00" text-anchor="end" font-size="13.89">1000</text>
<text x="82.30" y="887.2" text-anchor="middle" font-size="13.89" letter-spacing="-0.4">−60</text>
<text x="145.18" y="887.2" text-anchor="middle" font-size="13.89" letter-spacing="-0.4">−50</text>
<text x="208.06" y="887.2" text-anchor="middle" font-size="13.89" letter-spacing="-0.4">−40</text>
<text x="270.94" y="887.2" text-anchor="middle" font-size="13.89" letter-spacing="-0.4">−30</text>
<text x="333.82" y="887.2" text-anchor="middle" font-size="13.89" letter-spacing="-0.4">−20</text>
<text x="396.70" y="887.2" text-anchor="middle" font-size="13.89" letter-spacing="-0.4">−10</text>
<text x="461.18" y="887.2" text-anchor="middle" font-size="13.89">0</text>
<text x="522.86" y="887.2" text-anchor="middle" font-size="13.89" letter-spacing="-0.4">10</text>
<text x="585.74" y="887.2" text-anchor="middle" font-size="13.89" letter-spacing="-0.4">20</text>
<text x="648.62" y="887.2" text-anchor="middle" font-size="13.89" letter-spacing="-0.4">30</text>
<text x="711.50" y="887.2" text-anchor="middle" font-size="13.89" letter-spacing="-0.4">40</text>
<text x="398.4" y="908" text-anchor="middle" font-size="13.89" letter-spacing="0.1">Temperature (<tspan dy="-5.4" font-size="9.72" dx="2.0">∘</tspan><tspan dy="5.4" dx="1.8">C</tspan>)</text>
<text transform="translate(28.8 482.2) rotate(-90)" text-anchor="middle" font-size="13.89">Pressure (hPa)</text>
</svg>
</body></html>
